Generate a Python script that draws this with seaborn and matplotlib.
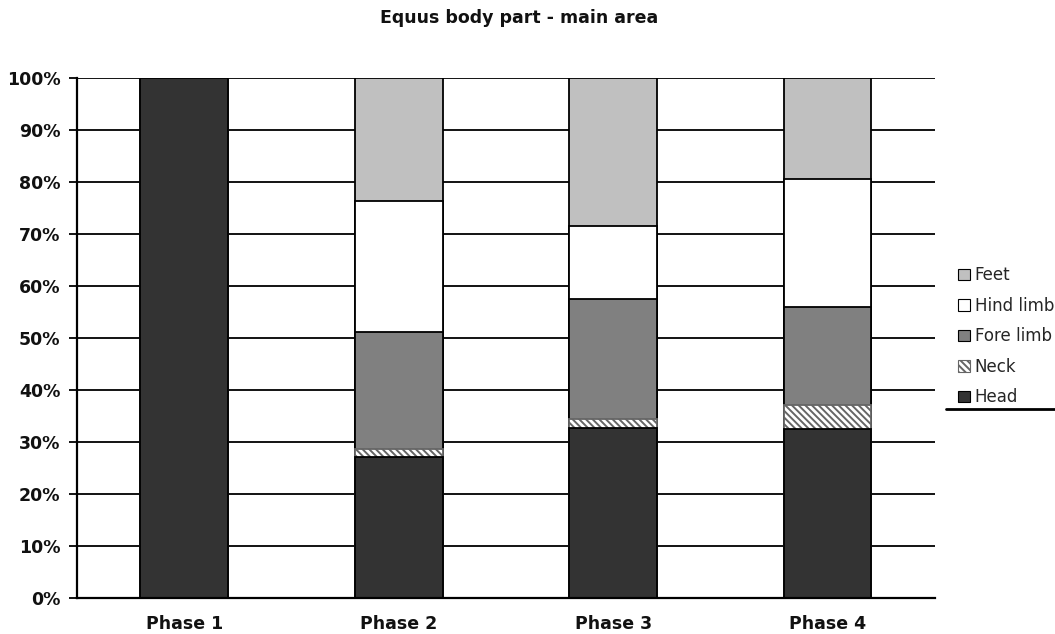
import matplotlib
matplotlib.use("Agg")
import matplotlib.pyplot as plt
from matplotlib.patches import Patch
from matplotlib.lines import Line2D
import numpy as np
import pandas as pd
import seaborn as sns

# Share of each body part (percent) per phase
phases = ["Phase 1", "Phase 2", "Phase 3", "Phase 4"]
head = [100.0, 27.1, 32.7, 32.5]
neck = [0.0, 1.6, 1.7, 4.6]
fore_limb = [0.0, 22.5, 23.1, 18.9]
hind_limb = [0.0, 25.1, 14.0, 24.6]
feet = [0.0, 23.7, 28.5, 19.4]

parts = ["Feet", "Hind limb", "Fore limb", "Neck", "Head"]
colors = {"Feet": "#c0c0c0", "Hind limb": "#ffffff", "Fore limb": "#808080",
          "Neck": "#ffffff", "Head": "#333333"}
edges = {"Neck": "#666666"}
hatches = {"Neck": "\\\\\\\\\\"}

sns.set_theme(style="white")
plt.rcParams["font.family"] = ["DejaVu Sans"]
plt.rcParams["hatch.linewidth"] = 1.4

df = pd.DataFrame({"phase": phases, "Head": head, "Neck": neck,
                   "Fore limb": fore_limb, "Hind limb": hind_limb, "Feet": feet})
# cumulative tops, stacked from the bottom: Head, Neck, Fore limb, Hind limb, Feet
stack_order = ["Head", "Neck", "Fore limb", "Hind limb", "Feet"]
cum = df[stack_order].cumsum(axis=1)

fig = plt.figure(figsize=(10.55, 6.34), dpi=100)
ax = fig.add_axes([0.073, 0.057, 0.813, 0.820])

# horizontal grid lines behind the bars
for v in range(10, 101, 10):
    ax.axhline(v, color="black", lw=1.3, zorder=0)

# draw the tallest cumulative first so each lower part covers the one above
for part in reversed(stack_order):
    sns.barplot(x=df["phase"], y=cum[part], color=colors[part], width=0.41,
                edgecolor=edges.get(part, "black"), linewidth=1.3, saturation=1,
                ax=ax, hatch=hatches.get(part, None), zorder=2)

ax.set_xlim(-0.5, 3.5)
ax.set_ylim(0, 100)
ax.set_yticks(range(0, 101, 10))
ax.set_yticklabels([f"{v}%" for v in range(0, 101, 10)],
                   fontsize=12.5, fontweight="bold", color="#111111")
ax.set_xticks(range(4))
ax.set_xticklabels(phases, fontsize=12.5, fontweight="bold", color="#111111")
ax.set_xticks(np.arange(-0.5, 3.6, 1.0), minor=True)
ax.tick_params(axis="x", which="major", length=0, pad=12)
ax.tick_params(axis="x", which="minor", length=6, width=1.3, color="black", direction="out")
ax.tick_params(axis="y", length=6, width=1.3, color="black", direction="out", left=True, pad=6)
ax.set_xlabel("")
ax.set_ylabel("")

for s in ["top", "right"]:
    ax.spines[s].set_visible(False)
for s in ["left", "bottom"]:
    ax.spines[s].set_color("black")
    ax.spines[s].set_linewidth(1.6)

fig.text(0.492, 0.972, "Equus body part - main area", ha="center", va="center",
         fontsize=12.5, fontweight="bold", color="#111111")

handles = [Patch(facecolor=colors[p], edgecolor=edges.get(p, "black"), linewidth=0.8,
                 hatch=hatches.get(p, None)) for p in parts]
fig.legend(handles, parts, loc="upper left", bbox_to_anchor=(0.908, 0.580),
           frameon=False, fontsize=12, handlelength=0.7, handleheight=0.7,
           handletextpad=0.3, labelspacing=0.75, borderaxespad=0, borderpad=0)
fig.add_artist(Line2D([0.897, 1.0], [0.355, 0.355], transform=fig.transFigure,
                      color="black", lw=2))

fig.savefig("out.png", dpi=100, facecolor="white")
